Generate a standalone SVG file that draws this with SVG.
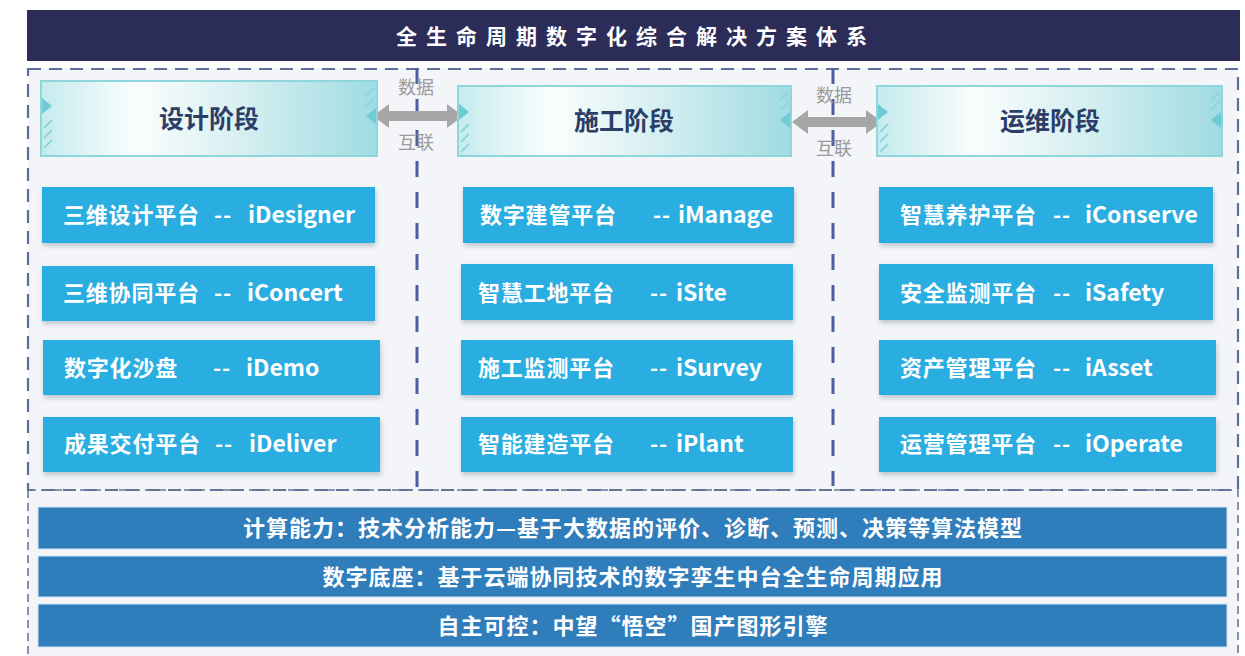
<svg xmlns="http://www.w3.org/2000/svg" width="1245" height="656" viewBox="0 0 1245 656">
<defs>
<style>
.cjk{font-family:"Noto Sans CJK SC","Noto Sans",sans-serif;font-weight:700}
.title{fill:#ffffff;font-size:21px;letter-spacing:9px}
.phase{fill:#2c3d66;font-size:25px;text-anchor:middle}
.plat{fill:#ffffff;font-size:22px;letter-spacing:0.8px}
.lat{font-size:23px;letter-spacing:0px}
.bar{fill:#ffffff;font-size:22px;letter-spacing:1px;text-anchor:middle}
.lbl{fill:#9a9a9a;font-size:18px;text-anchor:middle;font-weight:400}
.pbox{fill:#2bade0;filter:url(#sh)}
.bbox{fill:#2f7dbb;stroke:#cfe3f3;stroke-width:1}
.hbox{fill:url(#hg);stroke:#8ed5dc;stroke-width:2}
.deco{fill:#6fcad4}
.hatch{stroke:#8fd7de;stroke-width:2}
.arrow{fill:#a6a6a6}
</style>
<linearGradient id="hg" x1="0" y1="0" x2="1" y2="0">
<stop offset="0" stop-color="#c4ebee"/>
<stop offset="0.28" stop-color="#fbfdfd"/>
<stop offset="0.6" stop-color="#d6eff1"/>
<stop offset="1" stop-color="#9fdce2"/>
</linearGradient>
<filter id="sh" x="-5%" y="-20%" width="110%" height="150%">
<feDropShadow dx="1" dy="3" stdDeviation="2.5" flood-color="#7a8a99" flood-opacity="0.45"/>
</filter>
</defs>
<rect x="0" y="0" width="1245" height="656" fill="#ffffff"/>
<rect x="28" y="68" width="1210" height="588" fill="#f3f5f8"/>

<g id="title">
<rect x="27" y="10" width="1213" height="51" fill="#2c2c58"/>
<text class="cjk title" x="636" y="44" text-anchor="middle">全生命周期数字化综合解决方案体系</text>
</g>

<g id="frames" fill="none">
<rect x="28" y="69" width="1210" height="421" stroke="#5d709c" stroke-width="2.2" stroke-dasharray="13 8"/>
<path d="M28 490 H1238 V660 M28 490 V660" stroke="#6a7898" stroke-width="1.6" stroke-dasharray="8 5"/>
</g>

<g id="connectors">
<path d="M417 68 V488" stroke="#4b5f9e" stroke-width="3" stroke-dasharray="16 15" fill="none"/>
<path d="M833 68 V486" stroke="#4b5f9e" stroke-width="3" stroke-dasharray="16 15" fill="none"/>
<text class="cjk lbl" x="416" y="94">数据</text>
<text class="cjk lbl" x="416" y="149">互联</text>
<text class="cjk lbl" x="834" y="102">数据</text>
<text class="cjk lbl" x="834" y="155">互联</text>
<polygon class="arrow" points="373,116 389,104 389,111 447,111 447,104 463,116 447,128 447,121 389,121 389,128"/>
<polygon class="arrow" points="792,122 808,110 808,117 866,117 866,110 882,122 866,134 866,127 808,127 808,134"/>
</g>

<g id="phase-design">
<rect class="hbox" x="41" y="81" width="336" height="75"/>
<polygon class="deco" points="42,98 52,106 42,114"/>
<path class="hatch" d="M44 128 L52 120 M44 138 L52 130 M44 148 L52 140"/>
<polygon class="deco" points="376,108 366,116 376,124"/>
<path class="hatch" d="M366 96 L374 88 M366 106 L374 98"/>
<text class="cjk phase" x="209" y="128">设计阶段</text>
</g>
<g id="phase-construction">
<rect class="hbox" x="458" y="86" width="333" height="70"/>
<polygon class="deco" points="459,104 469,112 459,120"/>
<path class="hatch" d="M461 132 L469 124 M461 142 L469 134 M461 152 L469 144"/>
<polygon class="deco" points="790,112 780,120 790,128"/>
<path class="hatch" d="M780 100 L788 92 M780 110 L788 102"/>
<text class="cjk phase" x="624" y="130">施工阶段</text>
</g>
<g id="phase-operation">
<rect class="hbox" x="877" y="86" width="345" height="70"/>
<polygon class="deco" points="878,104 888,112 878,120"/>
<path class="hatch" d="M880 132 L888 124 M880 142 L888 134 M880 152 L888 144"/>
<polygon class="deco" points="1221,112 1211,120 1221,128"/>
<path class="hatch" d="M1211 100 L1219 92 M1211 110 L1219 102"/>
<text class="cjk phase" x="1050" y="130">运维阶段</text>
</g>

<g id="p-idesigner"><rect class="pbox" x="42" y="187" width="333" height="56"/><text class="cjk plat" x="63" y="223">三维设计平台<tspan x="214">--</tspan><tspan class="lat" x="248">iDesigner</tspan></text></g>
<g id="p-iconcert"><rect class="pbox" x="42" y="266" width="333" height="55"/><text class="cjk plat" x="63" y="301">三维协同平台<tspan x="214">--</tspan><tspan class="lat" x="247">iConcert</tspan></text></g>
<g id="p-idemo"><rect class="pbox" x="43" y="340" width="337" height="55"/><text class="cjk plat" x="64" y="376">数字化沙盘<tspan x="213">--</tspan><tspan class="lat" x="246">iDemo</tspan></text></g>
<g id="p-ideliver"><rect class="pbox" x="43" y="417" width="337" height="55"/><text class="cjk plat" x="64" y="452">成果交付平台<tspan x="215">--</tspan><tspan class="lat" x="249">iDeliver</tspan></text></g>

<g id="p-imanage"><rect class="pbox" x="463" y="187" width="331" height="56"/><text class="cjk plat" x="480" y="223">数字建管平台<tspan x="653">--</tspan><tspan class="lat" x="678">iManage</tspan></text></g>
<g id="p-isite"><rect class="pbox" x="461" y="264" width="332" height="56"/><text class="cjk plat" x="478" y="301">智慧工地平台<tspan x="650">--</tspan><tspan class="lat" x="676">iSite</tspan></text></g>
<g id="p-isurvey"><rect class="pbox" x="461" y="340" width="332" height="55"/><text class="cjk plat" x="478" y="376">施工监测平台<tspan x="650">--</tspan><tspan class="lat" x="676">iSurvey</tspan></text></g>
<g id="p-iplant"><rect class="pbox" x="461" y="417" width="332" height="55"/><text class="cjk plat" x="478" y="452">智能建造平台<tspan x="650">--</tspan><tspan class="lat" x="676">iPlant</tspan></text></g>

<g id="p-iconserve"><rect class="pbox" x="879" y="187" width="334" height="56"/><text class="cjk plat" x="900" y="223">智慧养护平台<tspan x="1053">--</tspan><tspan class="lat" x="1085">iConserve</tspan></text></g>
<g id="p-isafety"><rect class="pbox" x="879" y="264" width="334" height="56"/><text class="cjk plat" x="900" y="301">安全监测平台<tspan x="1053">--</tspan><tspan class="lat" x="1085">iSafety</tspan></text></g>
<g id="p-iasset"><rect class="pbox" x="879" y="340" width="337" height="55"/><text class="cjk plat" x="900" y="376">资产管理平台<tspan x="1053">--</tspan><tspan class="lat" x="1085">iAsset</tspan></text></g>
<g id="p-ioperate"><rect class="pbox" x="879" y="417" width="337" height="55"/><text class="cjk plat" x="900" y="452">运营管理平台<tspan x="1053">--</tspan><tspan class="lat" x="1085">iOperate</tspan></text></g>

<g id="bar-compute"><rect class="bbox" x="38" y="507" width="1189" height="42"/><text class="cjk bar" x="633" y="536">计算能力：技术分析能力—基于大数据的评价、诊断、预测、决策等算法模型</text></g>
<g id="bar-base"><rect class="bbox" x="38" y="556" width="1189" height="41"/><text class="cjk bar" x="633" y="585">数字底座：基于云端协同技术的数字孪生中台全生命周期应用</text></g>
<g id="bar-engine"><rect class="bbox" x="38" y="604" width="1189" height="43"/><text class="cjk bar" x="633" y="634">自主可控：中望“悟空”国产图形引擎</text></g>
</svg>
